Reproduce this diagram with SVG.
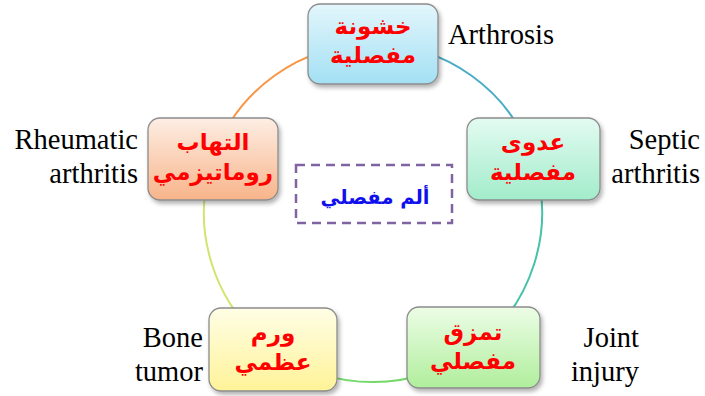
<svg xmlns="http://www.w3.org/2000/svg" width="705" height="396" viewBox="0 0 705 396">
<style>
.box{stroke:#8c8c8c;stroke-width:1.3;filter:url(#sh)}
.ar{font-family:"DejaVu Sans",sans-serif;font-weight:bold;font-size:23px;fill:#ff0000;text-anchor:middle}
.en{font-family:"Liberation Serif",serif;font-size:28.5px;fill:#000}
.arc{fill:none;stroke-width:2}
</style>
<defs>
<filter id="sh" x="-10%" y="-10%" width="125%" height="130%"><feDropShadow dx="2" dy="3" stdDeviation="2" flood-color="#000" flood-opacity="0.3"/></filter>
<linearGradient id="gTop" x1="0" y1="0" x2="0" y2="1"><stop offset="0" stop-color="#e3f6fc"/><stop offset="1" stop-color="#a3e0f4"/></linearGradient>
<linearGradient id="gSep" x1="0" y1="0" x2="0" y2="1"><stop offset="0" stop-color="#e3fbf1"/><stop offset="1" stop-color="#a2eccb"/></linearGradient>
<linearGradient id="gRhe" x1="0" y1="0" x2="0" y2="1"><stop offset="0" stop-color="#fdeee4"/><stop offset="1" stop-color="#f8b48a"/></linearGradient>
<linearGradient id="gBon" x1="0" y1="0" x2="0" y2="1"><stop offset="0" stop-color="#fffee6"/><stop offset="1" stop-color="#fff398"/></linearGradient>
<linearGradient id="gJoi" x1="0" y1="0" x2="0" y2="1"><stop offset="0" stop-color="#ecfde6"/><stop offset="1" stop-color="#b0ee9c"/></linearGradient>
</defs>
<rect width="705" height="396" fill="#fff"/>
<g id="connectors">
<path class="arc" stroke="#4bacc6" d="M373,44 A169,169 0 0 1 533.2,159.1"/>
<path class="arc" stroke="#45c2a8" d="M533.2,159.1 A169,169 0 0 1 473.5,348.9"/>
<path class="arc" stroke="#74d86a" d="M473.5,348.9 A169,169 0 0 1 272.9,349.2"/>
<path class="arc" stroke="#cfe66e" d="M272.9,349.2 A169,169 0 0 1 212.8,159.1"/>
<path class="arc" stroke="#f79646" d="M212.8,159.1 A169,169 0 0 1 373,44"/>
</g>
<g id="center">
<rect x="296" y="165" width="156" height="58" fill="none" stroke="#8064a2" stroke-width="2.5" stroke-dasharray="9,6"/>
<text x="375" y="204" style="font-family:'DejaVu Sans',sans-serif;font-weight:bold;font-size:19.5px;fill:#1010ee;text-anchor:middle">ألم مفصلي</text>
</g>
<g id="n-arthrosis">
<rect class="box" x="308" y="4" width="130" height="80" rx="12" fill="url(#gTop)"/>
<text class="ar" x="373" y="34">خشونة</text>
<text class="ar" x="373" y="63">مفصلية</text>
<text class="en" x="448" y="44">Arthrosis</text>
</g>
<g id="n-septic">
<rect class="box" x="467" y="118" width="133" height="82" rx="12" fill="url(#gSep)"/>
<text class="ar" x="533" y="150">عدوى</text>
<text class="ar" x="533" y="180">مفصلية</text>
<text class="en" x="700" y="149" text-anchor="end">Septic</text>
<text class="en" x="700" y="183" text-anchor="end">arthritis</text>
</g>
<g id="n-rheumatic">
<rect class="box" x="148" y="118" width="130" height="82" rx="12" fill="url(#gRhe)"/>
<text class="ar" x="213" y="150">التهاب</text>
<text class="ar" x="213" y="180">روماتيزمي</text>
<text class="en" x="138" y="149" text-anchor="end">Rheumatic</text>
<text class="en" x="138" y="183" text-anchor="end">arthritis</text>
</g>
<g id="n-bone">
<rect class="box" x="209" y="308" width="128" height="83" rx="12" fill="url(#gBon)"/>
<text class="ar" x="273" y="341">ورم</text>
<text class="ar" x="273" y="370">عظمي</text>
<text class="en" x="203" y="347" text-anchor="end">Bone</text>
<text class="en" x="203" y="381" text-anchor="end">tumor</text>
</g>
<g id="n-joint">
<rect class="box" x="407" y="307" width="133" height="81" rx="12" fill="url(#gJoi)"/>
<text class="ar" x="473" y="340">تمزق</text>
<text class="ar" x="473" y="369">مفصلي</text>
<text class="en" x="639" y="347" text-anchor="end">Joint</text>
<text class="en" x="639" y="381" text-anchor="end">injury</text>
</g>
</svg>
